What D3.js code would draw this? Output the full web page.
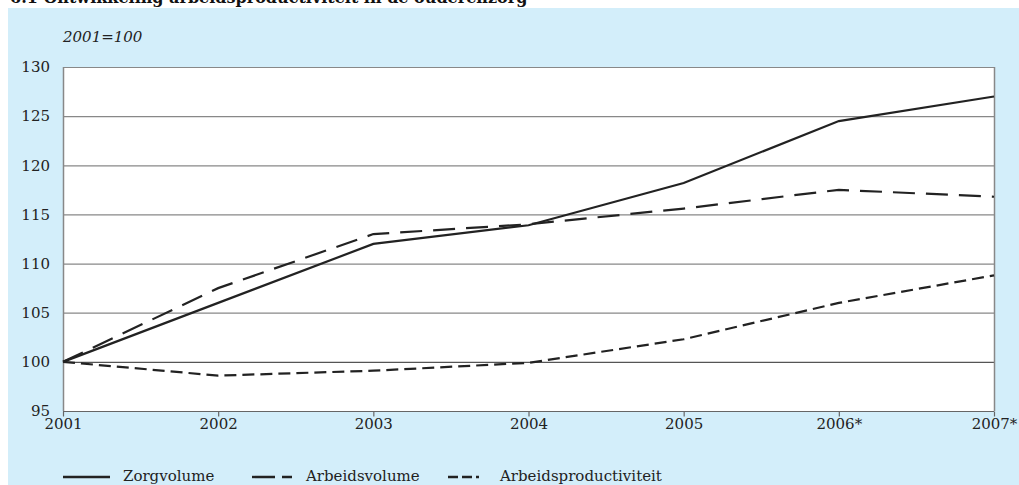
<!DOCTYPE html>
<html><head><meta charset="utf-8">
<script src="https://cdn.jsdelivr.net/npm/d3@7/dist/d3.min.js"></script>
<style>body{margin:0;background:#fff}svg{display:block}</style>
</head><body>
<script>
const years = ["2001","2002","2003","2004","2005","2006*","2007*"];
const zorgvolume = [100, 106.0, 112.0, 113.9, 118.2, 124.5, 127.0];
const arbeidsvolume = [100, 107.5, 113.0, 114.0, 115.6, 117.5, 116.8];
const arbeidsproductiviteit = [100, 98.6, 99.1, 99.9, 102.3, 106.0, 108.8];
const yTicks = [95, 100, 105, 110, 115, 120, 125, 130];
const seriesNames = ["Zorgvolume", "Arbeidsvolume", "Arbeidsproductiviteit"];

const W = 1019, H = 485;
const svg = d3.select("body").append("svg").attr("width", W).attr("height", H);
const font = "'DejaVu Serif', serif";

svg.append("text").attr("x", 10).attr("y", 3).attr("font-family", font)
  .attr("font-size", 16).attr("font-weight", "bold").attr("fill", "#111")
  .text("6.1 Ontwikkeling arbeidsproductiviteit in de ouderenzorg");

svg.append("rect").attr("x", 8).attr("y", 8).attr("width", W - 8).attr("height", H - 8).attr("fill", "#d3eefa");

const L = 63, R = 994, T = 67, B = 411;
const x = d3.scalePoint().domain(years).range([L, R]);
const y = d3.scaleLinear().domain([95, 130]).range([B, T]);

svg.append("rect").attr("x", L).attr("y", T).attr("width", R - L).attr("height", B - T).attr("fill", "#fff");

svg.append("g").selectAll("line").data(yTicks).join("line")
  .attr("x1", L).attr("x2", R).attr("y1", d => y(d) + 0.5).attr("y2", d => y(d) + 0.5)
  .attr("stroke", d => d === 100 ? "#555" : "#888").attr("stroke-width", 1.2);

svg.append("line").attr("x1", L + 0.5).attr("x2", L + 0.5).attr("y1", T).attr("y2", B).attr("stroke", "#888").attr("stroke-width", 1.5);
svg.append("line").attr("x1", R + 0.5).attr("x2", R + 0.5).attr("y1", T).attr("y2", B).attr("stroke", "#888").attr("stroke-width", 1.5);

const yAxis = d3.axisLeft(y).tickValues(yTicks).tickSize(0).tickPadding(13);
const gy = svg.append("g").attr("transform", `translate(${L},0)`).call(yAxis);
gy.select(".domain").remove();
gy.selectAll("text").attr("font-family", font).attr("font-size", 15).attr("fill", "#222");

const xAxis = d3.axisBottom(x).tickSize(5).tickPadding(2);
const gx = svg.append("g").attr("transform", `translate(0,${B + 0.5})`).call(xAxis);
gx.select(".domain").attr("stroke", "#666").attr("stroke-width", 1.2).attr("d", `M${L},0H${R}`);
gx.selectAll(".tick line").attr("stroke", "#666").attr("stroke-width", 1.2);
gx.selectAll("text").attr("font-family", font).attr("font-size", 15).attr("fill", "#222");

svg.append("text").attr("x", 63).attr("y", 42).attr("font-family", font).attr("font-style", "italic")
  .attr("font-size", 15).attr("fill", "#222").text("2001=100");

const dashes = [null, "22,11", "12,6"];
const data = [zorgvolume, arbeidsvolume, arbeidsproductiviteit];
const line = d3.line().x((d, i) => x(years[i])).y(d => y(d));
data.forEach((s, k) => {
  svg.append("path").datum(s).attr("d", line).attr("fill", "none")
    .attr("stroke", "#222").attr("stroke-width", 2.2)
    .attr("stroke-dasharray", dashes[k]);
});

const leg = [
  {x1: 63, x2: 110, tx: 123, dash: null},
  {x1: 252, x2: 292, tx: 306, dash: "23,7"},
  {x1: 448, x2: 479, tx: 500, dash: "10,4"}
];
leg.forEach((l, k) => {
  svg.append("line").attr("x1", l.x1).attr("x2", l.x2).attr("y1", 477).attr("y2", 477)
    .attr("stroke", "#222").attr("stroke-width", 2.4).attr("stroke-dasharray", l.dash);
  svg.append("text").attr("x", l.tx).attr("y", 481).attr("font-family", font)
    .attr("font-size", 15).attr("fill", "#222").text(seriesNames[k]);
});
</script>
</body></html>
